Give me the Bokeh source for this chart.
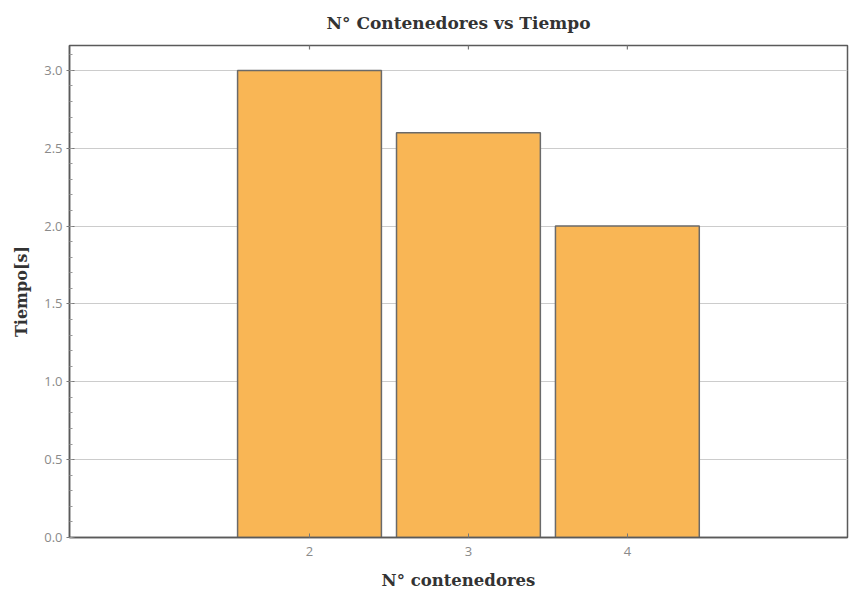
import math
from bokeh.plotting import figure
from bokeh.models import FixedTicker, ColumnDataSource, Range1d, PrintfTickFormatter
from bokeh.embed import file_html
from bokeh.resources import INLINE

contenedores = [2, 3, 4]
tiempo = [3.0, 2.6, 2.0]
y_ticks = [0.0, 0.5, 1.0, 1.5, 2.0, 2.5, 3.0]
y_minor = [round(i * 0.1, 1) for i in range(0, 32)]
y_max = 3.16

src = ColumnDataSource(dict(x=contenedores, top=tiempo))

p = figure(width=849, height=597, output_backend="svg", toolbar_location=None,
           x_range=Range1d(0.49, 5.385), y_range=Range1d(0, y_max),
           min_border_left=69, min_border_right=2, min_border_top=45, min_border_bottom=60,
           title="N° Contenedores vs Tiempo")

p.vbar(x="x", top="top", width=0.905, source=src, fill_color="#F9B655",
       line_color="#6a6a6a", line_width=1.5)

# mirrored ticks on the top edge
p.scatter(x=contenedores, y=[y_max] * len(contenedores), marker="dash", angle=math.pi / 2,
          size=8, line_color="#777777", line_width=1.2)

p.title.align = "center"
p.title.vertical_align = "top"
p.title.text_font = "DejaVu Serif"
p.title.text_font_size = "17px"
p.title.text_font_style = "bold"
p.title.text_color = "#333333"
p.title.standoff = 22

p.outline_line_color = "#5a5a5a"
p.outline_line_width = 1.5
p.background_fill_color = "white"
p.border_fill_color = "white"

p.xgrid.grid_line_color = None
p.ygrid.grid_line_color = "#cccccc"
p.ygrid.grid_line_width = 1.2

p.xaxis.ticker = FixedTicker(ticks=contenedores)
p.yaxis.ticker = FixedTicker(ticks=y_ticks, minor_ticks=y_minor)
p.yaxis.formatter = PrintfTickFormatter(format="%.1f")

for ax in [p.xaxis[0], p.yaxis[0]]:
    ax.axis_line_color = "#5a5a5a"
    ax.axis_line_width = 1.5
    ax.major_tick_line_color = "#777777"
    ax.minor_tick_line_color = "#999999"
    ax.major_label_text_color = "#8a8a8a"
    ax.major_label_text_font = "Open Sans"
    ax.major_label_text_font_size = "13px"
    ax.axis_label_text_font = "DejaVu Serif"
    ax.axis_label_text_font_size = "16px"
    ax.axis_label_text_font_style = "bold"
    ax.axis_label_text_color = "#333333"

p.xaxis.axis_label = "N° contenedores"
p.yaxis.axis_label = "Tiempo[s]"
p.xaxis.axis_label_text_font_size = "16.5px"
p.xaxis.major_tick_in = 4
p.xaxis.major_tick_out = 0
p.xaxis.minor_tick_line_color = None
p.xaxis.major_label_standoff = 9
p.xaxis.axis_label_standoff = 12
p.yaxis.major_tick_in = 5
p.yaxis.major_tick_out = 3
p.yaxis.minor_tick_in = 3
p.yaxis.minor_tick_out = 0
p.yaxis.major_label_standoff = 4
p.yaxis.axis_label_standoff = 10

open("out.html", "w").write(file_html(p, INLINE))
